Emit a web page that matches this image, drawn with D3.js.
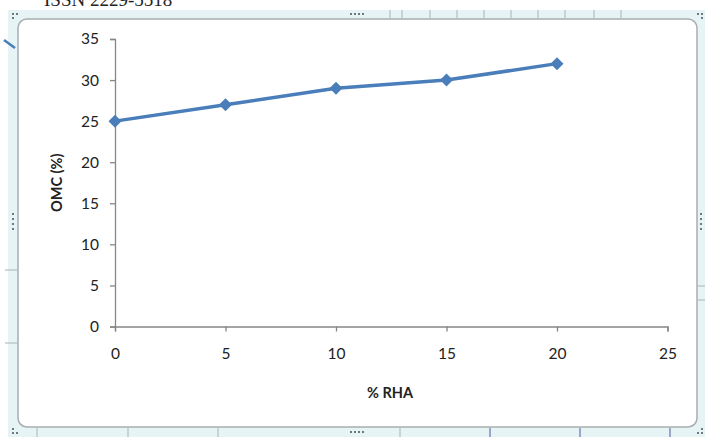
<!DOCTYPE html>
<html>
<head>
<meta charset="utf-8">
<script src="https://cdn.jsdelivr.net/npm/d3@7"></script>
<style>
  html, body { margin: 0; padding: 0; background: #ffffff; }
  svg { display: block; }
</style>
</head>
<body>
<svg id="chart" width="705" height="437"></svg>
<script>
// OMC (%) against rice husk ash content
const rhaPercent = [0, 5, 10, 15, 20];
const omcValues = [25, 27, 29, 30, 32];
const xTicks = [0, 5, 10, 15, 20, 25];
const yTicks = [0, 5, 10, 15, 20, 25, 30, 35];

const svg = d3.select("#chart");
const W = 705, H = 437;

// page header partly visible above the chart object
svg.append("text")
  .attr("x", 44).attr("y", 6)
  .attr("font-family", "Liberation Serif, serif")
  .attr("font-size", 19)
  .attr("fill", "#222")
  .text("ISSN 2229-5518");

// embedded object frame (light band with a grey inner rule)
const band = "#e6f4f6";
svg.append("rect").attr("x", 8).attr("y", 10).attr("width", W - 8).attr("height", H - 10)
  .attr("fill", band);
svg.append("rect").attr("x", 18).attr("y", 19).attr("width", 679).attr("height", 408)
  .attr("rx", 9).attr("ry", 9)
  .attr("fill", "#ffffff").attr("stroke", "#a9adb0").attr("stroke-width", 1.5);

// worksheet grid lines seen through the frame band
const frame = svg.append("g").attr("stroke", "#a8b4b8").attr("stroke-width", 1);
[390, 402, 430, 457, 484, 511, 538, 565, 594, 621].forEach(x =>
  frame.append("line").attr("x1", x).attr("x2", x).attr("y1", 10).attr("y2", 18));
[37, 128, 218, 400, 490, 580, 670].forEach(x =>
  frame.append("line").attr("x1", x).attr("x2", x).attr("y1", 428).attr("y2", 437)
    .attr("stroke", x >= 490 ? "#4a5a9a" : "#a8b4b8"));
[270, 343].forEach(y =>
  frame.append("line").attr("x1", 5).attr("x2", 17).attr("y1", y).attr("y2", y));
[286, 300].forEach(y =>
  frame.append("line").attr("x1", 698).attr("x2", 705).attr("y1", y).attr("y2", y));
svg.append("line").attr("x1", 4).attr("y1", 40).attr("x2", 15).attr("y2", 48)
  .attr("stroke", "#4a7ebb").attr("stroke-width", 2.5);

// resize handles
const handle = svg.append("g").attr("fill", "#6f7880");
const dots = (pts) => pts.forEach(([x, y]) =>
  handle.append("rect").attr("x", x).attr("y", y).attr("width", 2).attr("height", 2));
dots([[350, 13], [354, 13], [358, 13], [362, 13]]);
dots([[350, 431], [354, 431], [358, 431], [362, 431]]);
dots([[12, 213], [12, 218], [12, 223], [12, 228]]);
dots([[700, 213], [700, 218], [700, 223], [700, 228]]);
dots([[12, 13], [16, 13], [12, 17]]);
dots([[697, 13], [701, 13], [701, 17]]);
dots([[12, 428], [12, 432], [16, 432]]);
dots([[697, 432], [701, 432], [701, 428]]);

// plot scales
const x = d3.scaleLinear().domain([0, 25]).range([115, 667.5]);
const y = d3.scaleLinear().domain([0, 35]).range([326.5, 39]);

const axisColor = "#868686";
const font = "Lato, 'Open Sans', sans-serif";

const gx = svg.append("g").attr("transform", `translate(0,${y(0)})`)
  .call(d3.axisBottom(x).tickValues(xTicks).tickSize(5).tickPadding(16).tickFormat(d3.format("d")));
const gy = svg.append("g").attr("transform", `translate(${x(0)},0)`)
  .call(d3.axisLeft(y).tickValues(yTicks).tickSize(5).tickPadding(11).tickFormat(d3.format("d")));

[gx, gy].forEach(g => {
  g.select(".domain").attr("stroke", axisColor).attr("stroke-width", 1.3);
  g.selectAll(".tick line").attr("stroke", axisColor).attr("stroke-width", 1.3);
  g.selectAll(".tick text").attr("font-family", font).attr("font-size", 15.5).attr("fill", "#222");
});

// axis titles
svg.append("text")
  .attr("x", 390).attr("y", 398)
  .attr("text-anchor", "middle")
  .attr("font-family", font).attr("font-size", 14.5).attr("font-weight", "bold").attr("fill", "#222")
  .text("% RHA");
svg.append("text")
  .attr("transform", `translate(62,${y(17.5)}) rotate(-90)`)
  .attr("text-anchor", "middle")
  .attr("font-family", font).attr("font-size", 14.5).attr("font-weight", "bold").attr("fill", "#222")
  .text("OMC (%)");

// data series
const pts = rhaPercent.map((r, i) => [r, omcValues[i]]);
const lineColor = "#4a7ebb";
svg.append("path")
  .datum(pts)
  .attr("fill", "none")
  .attr("stroke", lineColor)
  .attr("stroke-width", 3.5)
  .attr("stroke-linejoin", "round")
  .attr("d", d3.line().x(d => x(d[0])).y(d => y(d[1])));

svg.append("g").selectAll("path")
  .data(pts)
  .join("path")
  .attr("transform", d => `translate(${x(d[0])},${y(d[1])})`)
  .attr("d", "M0,-6.5L6.5,0L0,6.5L-6.5,0Z")
  .attr("fill", lineColor);
</script>
</body>
</html>
